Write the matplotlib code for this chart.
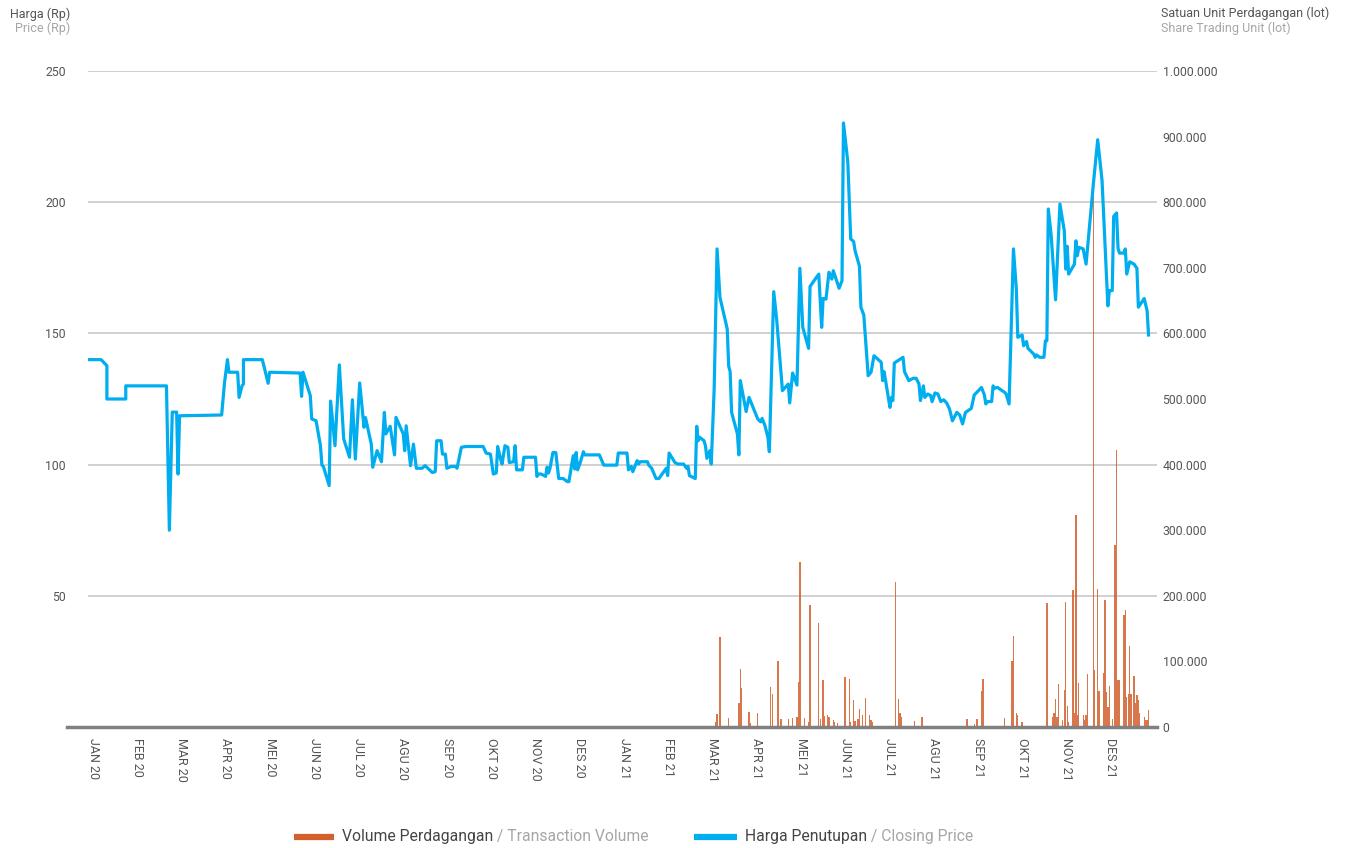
import matplotlib
matplotlib.use("Agg")
import matplotlib.pyplot as plt
from matplotlib.lines import Line2D
from matplotlib.ticker import FuncFormatter

plt.rcParams['font.family'] = ['Roboto', 'DejaVu Sans']

# ---------------- data ----------------
month_labels = ["JAN 20", "FEB 20", "MAR 20", "APR 20", "MEI 20", "JUN 20",
                "JUL 20", "AGU 20", "SEP 20", "OKT 20", "NOV 20", "DES 20",
                "JAN 21", "FEB 21", "MAR 21", "APR 21", "MEI 21", "JUN 21",
                "JUL 21", "AGU 21", "SEP 21", "OKT 21", "NOV 21", "DES 21"]

# day offset from 1 Jan 2020
price_day = [0, 9, 13, 13, 26, 26, 54, 56, 58, 61, 62, 63, 92, 94, 96, 97, 103, 104, 106, 107,
             107, 120, 124, 125, 146, 147, 148, 153, 154, 157, 160, 161, 162, 166, 167, 170, 173,
             176, 180, 182, 184, 187, 190, 191, 195, 196, 199, 202, 204, 205, 208, 211, 212, 217,
             218, 219, 222, 224, 226, 230, 232, 237, 239, 240, 243, 244, 246, 247, 250, 253, 254,
             257, 260, 272, 274, 277, 279, 281, 282, 284, 285, 287, 289, 290, 293, 294, 295, 299,
             300, 308, 309, 310, 312, 315, 316, 317, 318, 320, 322, 324, 327, 330, 331, 334, 335,
             336, 337, 339, 341, 342, 352, 355, 364, 365, 371, 372, 374, 375, 378, 379, 380, 385,
             386, 388, 391, 393, 398, 399, 400, 404, 406, 410, 412, 413, 414, 418, 419, 420, 421,
             424, 425, 426, 428, 429, 431, 433, 435, 440, 441, 442, 443, 447, 448, 449, 453, 455,
             461, 463, 464, 466, 468, 469, 472, 474, 478, 482, 483, 485, 488, 490, 492, 496, 497,
             503, 505, 506, 508, 510, 512, 513, 517, 519, 520, 523, 525, 527, 528, 531, 532, 534,
             537, 539, 541, 546, 547, 548, 552, 553, 554, 555, 561, 562, 565, 568, 570, 572, 573,
             575, 576, 578, 580, 581, 583, 585, 587, 589, 591, 593, 595, 598, 600, 602, 604, 608,
             610, 615, 617, 618, 619, 622, 623, 624, 626, 631, 632, 634, 637, 639, 640, 643, 644,
             646, 647, 651, 652, 653, 655, 658, 659, 660, 661, 663, 666, 669, 672, 673, 674, 675,
             679, 680, 681, 682, 685, 687, 692, 695, 698, 702, 703, 705, 706, 708, 709, 710, 713,
             714, 715, 717, 720, 722, 723, 727, 729, 730]

price = [140, 140, 137.7, 125, 125, 130, 130, 75, 120, 120, 96.4, 118.6, 118.9, 131.4, 140, 135.2,
         135.2, 125.6, 130, 130.7, 140, 140, 131, 135.2, 134.9, 126, 135.2, 126.3, 117.4, 116.7,
         107.2, 99.8, 99.3, 92, 124.2, 107.2, 138, 109.8, 102.8, 124.7, 102.1, 131.1, 114.2, 117.9,
         107.8, 99, 105.3, 101.1, 119.9, 111.7, 114.6, 103.7, 118, 111.7, 105.3, 114.8, 99.6,
         107.8, 98.6, 98.6, 99.6, 97.0, 97.3, 109.1, 109.1, 104, 104, 98.6, 99.3, 99.3, 98.6,
         106.6, 106.9, 106.9, 104.4, 104, 96.4, 96.8, 106.9, 102.1, 100.2, 107.2, 106.6, 100.8,
         101.1, 107.2, 98, 98, 102.8, 102.8, 95.5, 96.4, 96.4, 95.5, 99, 96.8, 98.6, 104.6, 104.6,
         94.7, 94.7, 93.5, 93.5, 103.4, 98.3, 104.6, 98, 101.1, 104.9, 103.7, 103.7, 99.8, 99.8,
         104.4, 104.4, 98, 99.3, 97.3, 101.5, 100.2, 101.1, 101.1, 99.8, 98.6, 94.7, 94.7, 98.6,
         95.8, 104.4, 100.8, 100.2, 100.2, 98.6, 99.3, 95.8, 94.7, 114.6, 109.1, 110.4, 109.1,
         107.2, 102.4, 105.3, 100.2, 128.8, 182.2, 163.7, 151.7, 137.5, 135.4, 119.9, 111.7,
         103.7, 132, 120.2, 125.6, 117.4, 116.3, 117.6, 114.8, 110.4, 104.9, 165.9, 155.5, 128.2,
         130.7, 123.5, 134.9, 130.3, 174.8, 152.3, 144.3, 167.9, 172.6, 152.3, 163.3, 163.1,
         173.3, 170.7, 173.9, 167.2, 170.1, 230.2, 215.3, 186, 185, 181.5, 175.6, 160, 157,
         133.9, 135.2, 141.5, 139, 132, 135.4, 121.8, 125.6, 124.4, 138.7, 140.9, 135.4, 132,
         132.9, 132.9, 130.7, 124.4, 130, 125.6, 126.9, 126.3, 124, 127.3, 126.9, 124, 124.7,
         123.5, 121.2, 116.7, 119.9, 118.9, 115.5, 119.9, 121.4, 126.5, 129.4, 126.5, 123.1, 124,
         124, 130, 129.1, 129.4, 127.5, 126.9, 123.1, 182.2, 166.9, 148.5, 149.4, 145.3, 146.9,
         144.3, 142.1, 140.9, 141.8, 140.9, 140.9, 147.2, 147.2, 197.4, 187.2, 162.8, 199.3,
         189.1, 174.5, 183.2, 172.6, 176.4, 185.3, 179.6, 182.8, 182.2, 176.4, 206.9, 223.8,
         208.2, 160.5, 166.3, 166.3, 194.6, 195.9, 182.4, 180.6, 180.6, 182.2, 172.6, 177.3,
         176.4, 174.8, 160, 163.3, 158.7, 149.4]

volume_day = [432, 433, 435, 441, 448, 449, 450, 455, 456, 461, 470, 471, 475, 477, 482, 485, 488,
              489, 490, 493, 496, 497, 503, 504, 506, 507, 509, 510, 513, 514, 516, 521, 524, 525,
              527, 528, 530, 531, 533, 535, 538, 539, 540, 556, 558, 559, 560, 569, 574, 605, 610,
              612, 615, 616, 631, 636, 637, 639, 640, 643, 660, 664, 665, 666, 667, 668, 671, 672,
              673, 674, 675, 678, 679, 680, 681, 682, 685, 686, 687, 688, 692, 693, 695, 696, 699,
              700, 701, 702, 703, 705, 707, 708, 709, 710, 713, 714, 715, 716, 717, 718, 720, 721,
              722, 723, 724, 727, 728, 729, 730]

volume_lot = [8000, 20000, 137000, 14000, 36000, 89000, 60000, 23000, 6000, 22000, 61000, 51000,
              100000, 12000, 12000, 13000, 16000, 68000, 251000, 13000, 8000, 186000, 158000,
              12000, 72000, 17000, 19000, 16000, 10000, 7000, 6000, 76000, 73000, 8000, 41000,
              9000, 12000, 28000, 18000, 44000, 18000, 10000, 7000, 221000, 42000, 22000, 16000,
              9000, 15000, 12000, 5000, 12000, 55000, 73000, 14000, 100000, 139000, 22000, 18000,
              8000, 189000, 16000, 22000, 42000, 16000, 66000, 11000, 57000, 191000, 32000, 8000,
              209000, 22000, 323000, 18000, 67000, 18000, 11000, 18000, 81000, 830000, 87000,
              210000, 55000, 82000, 194000, 54000, 31000, 62000, 12000, 277000, 422000, 71000,
              71000, 171000, 178000, 45000, 51000, 123000, 51000, 78000, 37000, 49000, 41000,
              21000, 15000, 11000, 10000, 26000]

# ---------------- figure ----------------
W, H = 1354, 848
fig = plt.figure(figsize=(W / 100, H / 100), dpi=100)

x0, x1 = 88, 1157
yb, yt = 727, 71
rect = [x0 / W, (H - yb) / H, (x1 - x0) / W, (yb - yt) / H]

axv = fig.add_axes(rect)          # volume (right)
axp = axv.twinx()                 # price (left) drawn on top
axp.set_zorder(axv.get_zorder() + 1)
axp.patch.set_visible(False)

total_days = 731
px_per_day = (1150 - 88) / total_days
xmax = (x1 - x0) / px_per_day

blue = '#00AEEF'
orange = '#D25F2C'
txt_dark = '#555555'
txt_light = '#A6A6A6'

# volume bars
axv.bar(volume_day, volume_lot, width=0.9, color=orange, alpha=0.85, edgecolor='none', zorder=3)
for g in range(200000, 1000001, 200000):
    axv.axhline(g, color='#C8C8C8', lw=1.2, zorder=1)
axv.set_ylim(0, 1000000)
axv.set_xlim(0, xmax)
axv.yaxis.tick_right()
axv.set_yticks(range(0, 1000001, 100000))
axv.yaxis.set_major_formatter(FuncFormatter(lambda v, p: f"{int(v):,}".replace(",", ".")))
axv.tick_params(axis='y', length=0, pad=4, labelsize=8.8, labelcolor=txt_dark)

# price line
axp.plot(price_day, price, color=blue, lw=2.3, solid_joinstyle='round', zorder=5)
axp.set_ylim(0, 250)
axp.set_xlim(0, xmax)
axp.yaxis.tick_left()
axp.set_yticks([50, 100, 150, 200, 250])
axp.tick_params(axis='y', length=0, pad=16, labelsize=8.8, labelcolor=txt_dark)

# x ticks (months)
month_step = total_days / 24
axv.set_xticks([i * month_step + 3.6 for i in range(24)])
axv.set_xticklabels(month_labels, rotation=-90)
axv.tick_params(axis='x', length=0, pad=8, labelsize=9, labelcolor=txt_dark)
axp.tick_params(axis='x', length=0, labelbottom=False)

for a in (axv, axp):
    for s in a.spines.values():
        s.set_visible(False)

# baseline
axp.add_line(Line2D([(67 - x0) / (x1 - x0), 1.0], [0, 0], transform=axp.transAxes,
                    color='#808080', lw=2.5, clip_on=False, zorder=6))

# axis headers
fig.text(70 / W, 1 - 14 / H, "Harga (Rp)", ha='right', va='center', fontsize=9, color=txt_dark)
fig.text(70 / W, 1 - 28.5 / H, "Price (Rp)", ha='right', va='center', fontsize=9, color=txt_light)
fig.text(1161 / W, 1 - 13 / H, "Satuan Unit Perdagangan (lot)", ha='left', va='center',
         fontsize=9, color=txt_dark)
fig.text(1161 / W, 1 - 28.5 / H, "Share Trading Unit (lot)", ha='left', va='center',
         fontsize=9, color=txt_light)

# legend (manual, two-tone text)
fig.canvas.draw()
renderer = fig.canvas.get_renderer()
ly = 1 - 837 / H


def legend_item(xa, xb, color, dark, light):
    fig.add_artist(Line2D([xa / W, xb / W], [ly, ly], transform=fig.transFigure,
                          color=color, lw=4.5, solid_capstyle='butt'))
    t1 = fig.text((xb + 8) / W, ly, dark, ha='left', va='center', fontsize=11.3, color='#444444')
    bb = t1.get_window_extent(renderer)
    fig.text(bb.x1 / W, ly, " / " + light, ha='left', va='center', fontsize=11.3, color=txt_light)


legend_item(294, 334, orange, "Volume Perdagangan", "Transaction Volume")
legend_item(694, 737, blue, "Harga Penutupan", "Closing Price")

fig.savefig("out.png", dpi=100)
